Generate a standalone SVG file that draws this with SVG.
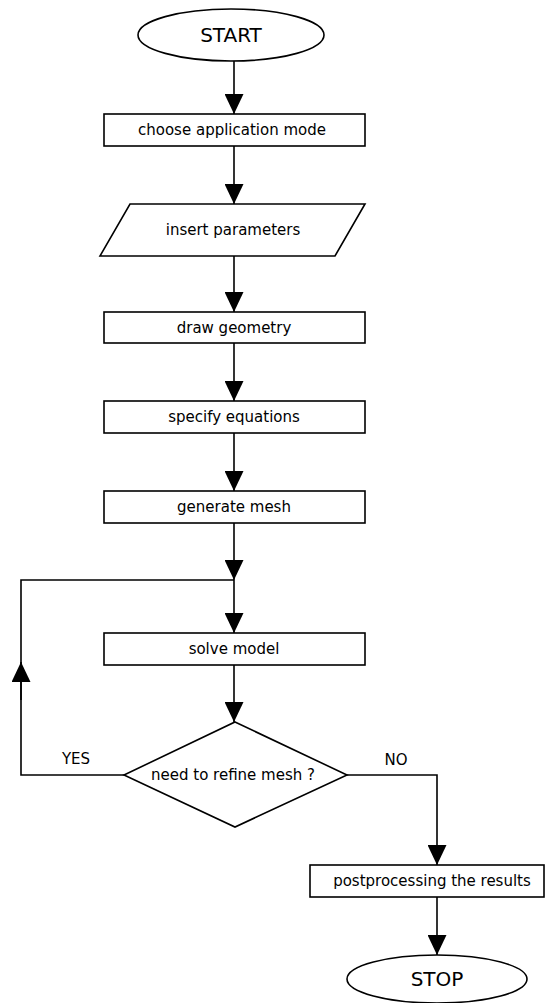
<svg xmlns="http://www.w3.org/2000/svg" width="546" height="1003" viewBox="0 0 546 1003">
<defs>
<style>
.shape{fill:#fff;stroke:#000;stroke-width:1.6}
.ln{fill:none;stroke:#000;stroke-width:1.6}
.t{font-family:"DejaVu Sans",Verdana,sans-serif;font-size:15px;fill:#000;text-anchor:middle}
.big{font-size:20px}
.lbl{font-family:"DejaVu Sans",Verdana,sans-serif;font-size:15px;fill:#000;text-anchor:middle}
</style>
<marker id="ah" viewBox="0 0 20 19" refX="20" refY="9.5" markerWidth="20" markerHeight="19" markerUnits="userSpaceOnUse" orient="auto">
<path d="M0,0 L20,9.5 L0,19 Z" fill="#000"/>
</marker>
</defs>
<rect width="546" height="1003" fill="#fff"/>
<g id="connectors">
<line class="ln" x1="234" y1="61" x2="234" y2="114" marker-end="url(#ah)"/>
<line class="ln" x1="234" y1="146" x2="234" y2="204" marker-end="url(#ah)"/>
<line class="ln" x1="234" y1="256" x2="234" y2="312" marker-end="url(#ah)"/>
<line class="ln" x1="234" y1="343" x2="234" y2="401" marker-end="url(#ah)"/>
<line class="ln" x1="234" y1="433" x2="234" y2="491" marker-end="url(#ah)"/>
<line class="ln" x1="234" y1="523" x2="234" y2="580" marker-end="url(#ah)"/>
<line class="ln" x1="234" y1="580" x2="234" y2="633" marker-end="url(#ah)"/>
<line class="ln" x1="234" y1="665" x2="234" y2="722" marker-end="url(#ah)"/>
<polyline class="ln" points="124,775 21,775 21,662"/>
<line class="ln" x1="21" y1="700" x2="21" y2="662" marker-end="url(#ah)"/>
<polyline class="ln" points="21,662 21,580 234,580"/>
<polyline class="ln" points="347,775 437,775 437,865" marker-end="url(#ah)"/>
<line class="ln" x1="437" y1="897" x2="437" y2="955" marker-end="url(#ah)"/>
<text class="lbl" x="76" y="764">YES</text>
<text class="lbl" x="396" y="765">NO</text>
</g>
<g id="start">
<ellipse class="shape" cx="231" cy="35" rx="93" ry="26"/>
<text class="t big" x="231" y="42">START</text>
</g>
<g id="choose-mode">
<rect class="shape" x="104" y="114" width="261" height="32"/>
<text class="t" x="232" y="135">choose application mode</text>
</g>
<g id="insert-parameters">
<polygon class="shape" points="130,204 365,204 335,256 100,256"/>
<text class="t" x="233" y="235">insert parameters</text>
</g>
<g id="draw-geometry">
<rect class="shape" x="104" y="312" width="261" height="31"/>
<text class="t" x="234" y="333">draw geometry</text>
</g>
<g id="specify-equations">
<rect class="shape" x="104" y="401" width="261" height="32"/>
<text class="t" x="234" y="422">specify equations</text>
</g>
<g id="generate-mesh">
<rect class="shape" x="104" y="491" width="261" height="32"/>
<text class="t" x="234" y="512">generate mesh</text>
</g>
<g id="solve-model">
<rect class="shape" x="104" y="633" width="261" height="32"/>
<text class="t" x="234" y="654">solve model</text>
</g>
<g id="refine-decision">
<polygon class="shape" points="235,722 347,775 235,827 124,775"/>
<text class="t" x="233" y="780">need to refine mesh ?</text>
</g>
<g id="postprocessing">
<rect class="shape" x="310" y="865" width="234" height="32"/>
<text class="t" x="432" y="886">postprocessing the results</text>
</g>
<g id="stop">
<ellipse class="shape" cx="437" cy="979" rx="90" ry="24"/>
<text class="t big" x="437" y="986">STOP</text>
</g>
</svg>
